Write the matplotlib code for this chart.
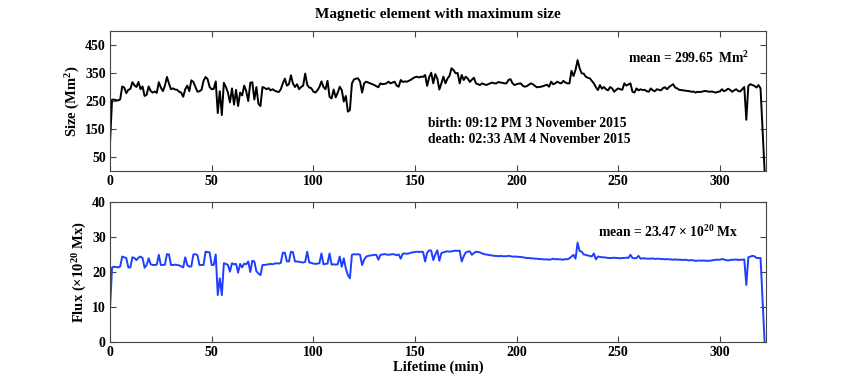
import matplotlib.pyplot as plt
import numpy as np

# lifetime of the element, one frame per minute
lifetime = np.arange(323)

# size of the element (Mm^2)
size = [
    100, 255, 255, 253, 252, 256, 302, 298, 278, 290,
    293, 317, 306, 300, 318, 292, 302, 268, 272, 302,
    286, 280, 284, 279, 317, 298, 285, 305, 336, 312,
    292, 295, 291, 290, 283, 280, 265, 292, 305, 285,
    324, 318, 300, 283, 285, 290, 322, 336, 328, 300,
    292, 293, 320, 207, 285, 200, 315, 300, 280, 245,
    295, 237, 290, 232, 280, 270, 305, 285, 250, 315,
    317, 255, 300, 240, 232, 300, 297, 292, 296, 288,
    292, 287, 284, 282, 292, 313, 330, 305, 310, 342,
    312, 300, 310, 292, 300, 305, 348, 308, 298, 296,
    284, 280, 288, 300, 320, 300, 292, 322, 265, 259,
    291, 263, 280, 301, 289, 248, 268, 212, 218, 313,
    327, 330, 331, 319, 280, 313, 319, 316, 313, 310,
    307, 303, 299, 313, 310, 311, 313, 319, 313, 316,
    319, 305, 301, 325, 318, 320, 319, 322, 326, 331,
    335, 337, 334, 337, 336, 343, 304, 335, 351, 313,
    346, 330, 291, 313, 337, 313, 330, 340, 367, 360,
    349, 350, 313, 343, 325, 337, 330, 318, 326, 333,
    313, 310, 307, 313, 310, 307, 310, 313, 316, 313,
    313, 318, 316, 315, 313, 313, 325, 328, 313, 307,
    310, 312, 313, 305, 301, 303, 308, 313, 310, 304,
    299, 300, 301, 303, 306, 308, 301, 319, 310, 313,
    319, 315, 313, 322, 316, 313, 313, 358, 339, 361,
    396, 367, 349, 348, 337, 333, 331, 322, 313, 299,
    289, 307, 294, 300, 292, 288, 300, 295, 283, 290,
    295, 292, 290, 313, 305, 309, 313, 283, 280, 295,
    288, 292, 289, 290, 285, 283, 295, 288, 285, 292,
    290, 288, 296, 299, 292, 300, 305, 310, 298, 295,
    290, 289, 288, 287, 286, 285, 283, 284, 280, 283,
    282, 283, 285, 286, 284, 283, 284, 282, 280, 283,
    284, 292, 285, 288, 294, 290, 283, 288, 292, 286,
    284, 292, 300, 183, 304, 310, 307, 304, 298, 307,
    295, 150, 0,
]

# magnetic flux (10^20 Mx)
flux = [
    9.6, 21.3, 21.5, 21.4, 21.3, 21.6, 24.4, 24.2, 24.0, 21.3,
    21.3, 24.2, 24.0, 23.4, 24.1, 24.4, 24.0, 21.2, 22.0, 23.9,
    22.2, 22.0, 22.0, 22.1, 24.9, 22.0, 22.0, 22.1, 25.1, 25.0,
    22.0, 22.0, 22.1, 22.0, 21.9, 21.6, 21.3, 24.2, 22.0, 21.5,
    21.6, 25.0, 25.1, 24.8, 22.0, 22.0, 22.0, 25.8, 25.7, 25.6,
    22.0, 22.0, 25.0, 13.4, 18.2, 13.4, 22.5, 22.3, 22.0, 20.1,
    22.5, 22.2, 22.3, 19.8, 22.3, 21.3, 22.4, 22.2, 23.0, 20.0,
    23.2, 23.0, 20.2, 19.6, 19.1, 22.0, 22.0, 22.1, 22.2, 22.3,
    22.2, 22.4, 22.5, 22.4, 22.6, 25.5, 25.5, 23.0, 23.0, 25.8,
    25.6, 23.0, 23.0, 22.9, 22.8, 22.7, 22.9, 25.8, 22.7, 22.6,
    22.4, 22.3, 22.4, 22.5, 25.3, 22.2, 22.3, 22.4, 25.3, 22.1,
    22.2, 22.1, 22.2, 24.4, 21.5, 23.9, 21.0, 19.1, 18.2, 24.9,
    25.1, 25.0, 25.1, 24.9, 22.0, 23.5, 24.4, 24.6, 24.7, 24.8,
    24.9, 24.9, 23.5, 24.9, 25.0, 25.1, 25.0, 24.9, 25.0, 25.1,
    25.0, 24.8, 25.0, 23.8, 25.2, 25.3, 25.2, 25.3, 25.5, 25.6,
    25.7, 25.8, 25.7, 25.8, 25.7, 23.0, 25.5, 26.2, 26.1, 23.4,
    25.0, 26.2, 23.2, 25.4, 25.6, 25.8, 25.9, 25.8, 25.9, 26.0,
    26.1, 26.0, 26.1, 23.0, 24.5, 25.6, 25.8, 25.9, 24.9, 25.4,
    25.8, 25.7, 25.6, 25.3, 25.1, 25.0, 24.9, 24.8, 24.7, 24.6,
    24.6, 24.5, 24.6, 24.5, 24.5, 24.5, 24.6, 24.5, 24.4, 24.4,
    24.4, 24.3, 24.3, 24.2, 24.1, 24.0, 24.0, 23.9, 23.9, 23.8,
    23.8, 23.7, 23.7, 23.6, 23.6, 23.6, 23.5, 23.6, 23.8, 23.6,
    23.7, 23.6, 23.6, 23.5, 23.7, 23.6, 23.9, 24.4, 24.9, 23.8,
    28.4, 26.0, 25.8, 25.0, 24.9, 24.7, 24.6, 24.4, 25.3, 23.6,
    24.4, 24.3, 24.2, 24.2, 24.1, 24.0, 24.0, 24.0, 24.1, 24.0,
    24.0, 23.9, 24.0, 24.0, 24.1, 24.0, 24.9, 24.0, 23.9, 24.0,
    24.6, 23.8, 23.9, 23.9, 23.8, 23.8, 23.8, 23.9, 23.7, 23.8,
    23.8, 23.7, 23.7, 23.6, 23.7, 23.6, 23.6, 23.5, 23.6, 23.5,
    23.5, 23.5, 23.4, 23.5, 23.4, 23.3, 23.4, 23.3, 23.2, 23.2,
    23.3, 23.2, 23.3, 23.2, 23.2, 23.2, 23.3, 23.4, 23.5, 23.5,
    23.5, 23.7, 23.6, 23.4, 23.3, 23.4, 23.5, 23.5, 23.6, 23.4,
    23.5, 23.5, 23.6, 16.3, 24.2, 24.4, 24.6, 24.5, 24.0, 24.0,
    24.0, 12.0, 0.0,
]

size_ticks = [50, 150, 250, 350, 450]
flux_ticks = [0, 10, 20, 30, 40]
time_ticks = [0, 50, 100, 150, 200, 250, 300]

title = 'Magnetic element with maximum size'
birth = 'birth: 09:12 PM 3 November 2015'
death = 'death: 02:33 AM 4 November 2015'
size_mean = r'mean = 299.65  Mm$^{2}$'
flux_mean = r'mean = 23.47 $\times$ 10$^{20}$ Mx'

plt.rcParams['font.family'] = ['Liberation Serif', 'DejaVu Serif']
plt.rcParams['font.weight'] = 'bold'
plt.rcParams['axes.labelweight'] = 'bold'
plt.rcParams['axes.titleweight'] = 'bold'
plt.rcParams['font.size'] = 10
plt.rcParams['mathtext.fontset'] = 'custom'
plt.rcParams['mathtext.rm'] = 'Liberation Serif:bold'
plt.rcParams['mathtext.it'] = 'Liberation Serif:bold:italic'
plt.rcParams['mathtext.bf'] = 'Liberation Serif:bold'
plt.rcParams['axes.linewidth'] = 0.8


def style_axes(ax):
    for s in ax.spines.values():
        s.set_color('#444444')
    ax.tick_params(direction='in', length=4, width=0.8, color='#444444',
                   top=True, right=True, pad=3, labelsize=10)
    ax.set_xlim(0, 322.7)
    ax.set_xticks(time_ticks)


fig = plt.figure(figsize=(8.47, 3.87), dpi=100)

ax1 = fig.add_axes([0.1299, 0.5581, 0.7745, 0.3618])
ax1.plot(lifetime, size, color='black', lw=1.4)
style_axes(ax1)
ax1.set_ylim(0, 500)
ax1.set_yticks(size_ticks)
ax1.set_ylabel(r'Size (Mm$^{2}$)', fontsize=10.5, labelpad=2)
ax1.set_title(title, fontsize=11, pad=9)
ax1.text(255, 403, size_mean, fontsize=9.8, va='center', ha='left')
ax1.text(156.5, 168, birth, fontsize=9.8, va='center', ha='left')
ax1.text(156.5, 113, death, fontsize=9.8, va='center', ha='left')

ax2 = fig.add_axes([0.1299, 0.1163, 0.7745, 0.3618])
ax2.plot(lifetime, flux, color='#1f3fff', lw=1.4)
style_axes(ax2)
ax2.set_ylim(0, 40)
ax2.set_yticks(flux_ticks)
ax2.set_ylabel(r'Flux ($\times$10$^{20}$ Mx)', fontsize=10.5, labelpad=2)
ax2.set_xlabel('Lifetime (min)', fontsize=10.5, labelpad=1)
ax2.text(240, 31.5, flux_mean, fontsize=9.8, va='center', ha='left')

fig.savefig('out.png', dpi=100)
